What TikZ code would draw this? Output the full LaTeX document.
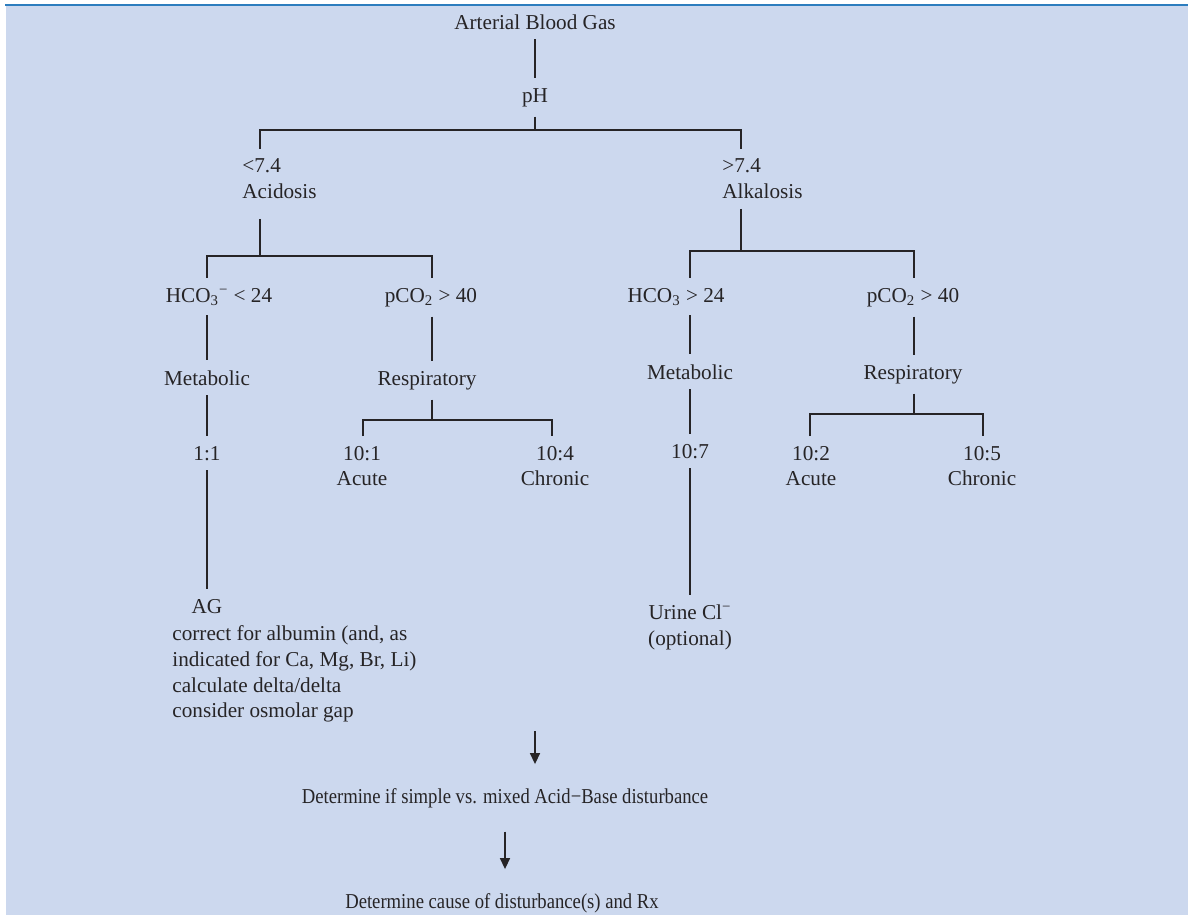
\documentclass[tikz,border=0pt]{standalone}
\usepackage{fontspec}
\setmainfont{Liberation Serif}
\newfontfamily\narrowserif[FakeStretch=0.88]{Liberation Serif}
\usetikzlibrary{arrows.meta}
\definecolor{panel}{RGB}{204,216,238}
\definecolor{rule}{RGB}{44,125,190}
\definecolor{ink}{RGB}{38,36,38}
\tikzset{>={Triangle[length=5.5pt,width=5pt]}}

\begin{document}
\begin{tikzpicture}[x=0.5pt,y=-0.5pt,
    txt/.style={text=ink,font=\fontsize{10.6}{12.8}\selectfont,inner sep=0pt,outer ysep=5pt},
    step txt/.style={txt,font=\fontsize{10.6}{12.8}\narrowserif},
    link/.style={draw=ink,line width=0.75pt},
    flow/.style={link,->,shorten <=7pt,shorten >=7pt}]

  % panel and top rule
  \useasboundingbox (0,0) rectangle (1188,918);
  \fill[panel] (6,6) rectangle (1188,915);
  \draw[rule,line width=1pt] (5,5) -- (1188,5);

  % top of the tree
  \node[txt,anchor=base] (abg) at (535,29) {Arterial Blood Gas};
  \node[txt,anchor=base] (ph) at (535,102) {pH};
  \draw[link] (abg) -- (ph);

  \node[txt,anchor=north west,align=left] (acid) at (242,149) {<7.4\\Acidosis};
  \node[txt,anchor=north west,align=left] (alk) at (722,149) {>7.4\\Alkalosis};
  \coordinate (phL) at (260,130);
  \coordinate (phR) at (741,130);
  \draw[link] (ph) |- (phL) -- (phL |- acid.north);
  \draw[link] (ph.south |- phL) -- (phR) -- (phR |- alk.north);

  % acidosis side
  \node[txt,anchor=base] (hcoa) at (219,302) {HCO\textsubscript{3}\textsuperscript{−} < 24};
  \node[txt,anchor=base] (pcoa) at (431,302) {pCO\textsubscript{2} > 40};
  \coordinate (acL) at (207,256);
  \coordinate (acR) at (432,256);
  \draw[link,shorten <=5pt] (acid.south -| phL) -- (phL |- acL);
  \draw[link] (acL |- hcoa.north) -- (acL) -- (acR) -- (acR |- pcoa.north);

  \node[txt,anchor=base] (metaa) at (207,385) {Metabolic};
  \node[txt,anchor=base] (respa) at (427,385) {Respiratory};
  \draw[link] (metaa.north |- hcoa.south) -- (metaa.north);
  \draw[link] (pcoa.south -| acR) -- (acR |- respa.north);

  \node[txt,anchor=base] (ratioa) at (207,460) {1:1};
  \draw[link] (metaa) -- (ratioa);
  \node[txt,anchor=base] (ag) at (207,613) {AG};
  \draw[link] (ratioa) -- (ag);
  \node[txt,anchor=north west,align=left] (agnotes) at (172,616)
    {correct for albumin (and, as\\indicated for Ca, Mg, Br, Li)\\calculate delta/delta\\consider osmolar gap};

  \node[txt,anchor=north,align=center] (acutea) at (362,436) {10:1\\Acute};
  \node[txt,anchor=north,align=center] (chronica) at (555,436) {10:4\\Chronic};
  \coordinate (raL) at (363,420);
  \coordinate (raR) at (552,420);
  \draw[link] (respa.south -| acR) -- (acR |- raL);
  \draw[link] (raL |- acutea.north) -- (raL) -- (raR) -- (raR |- chronica.north);

  % alkalosis side
  \node[txt,anchor=base] (hcob) at (676,302) {HCO\textsubscript{3} > 24};
  \node[txt,anchor=base] (pcob) at (913,302) {pCO\textsubscript{2} > 40};
  \coordinate (alL) at (690,251);
  \coordinate (alR) at (914,251);
  \draw[link] (alk.south -| phR) -- (phR |- alL);
  \draw[link] (alL |- hcob.north) -- (alL) -- (alR) -- (alR |- pcob.north);

  \node[txt,anchor=base] (metab) at (690,379) {Metabolic};
  \node[txt,anchor=base] (respb) at (913,379) {Respiratory};
  \draw[link] (metab.north |- hcob.south) -- (metab.north);
  \draw[link] (pcob.south -| alR) -- (alR |- respb.north);

  \node[txt,anchor=base] (ratiob) at (690,458) {10:7};
  \draw[link] (metab) -- (ratiob);
  \node[txt,anchor=north,align=center] (urine) at (690,595) {Urine Cl\textsuperscript{−}\\(optional)};
  \draw[link] (ratiob) -- (urine);

  \node[txt,anchor=north,align=center] (acuteb) at (811,436) {10:2\\Acute};
  \node[txt,anchor=north,align=center] (chronicb) at (982,436) {10:5\\Chronic};
  \coordinate (rbL) at (810,414);
  \coordinate (rbR) at (983,414);
  \draw[link] (respb.south -| alR) -- (alR |- rbL);
  \draw[link] (rbL |- acuteb.north) -- (rbL) -- (rbR) -- (rbR |- chronicb.north);

  % bottom steps
  \node[step txt,anchor=base] (mixed) at (505,803) {Determine if simple vs. mixed Acid−Base disturbance};
  \node[step txt,anchor=base] (cause) at (502,908) {Determine cause of disturbance(s) and Rx};
  \coordinate (arrA) at (535,717);
  \draw[flow] (arrA) -- (arrA |- mixed.north);
  \draw[flow] (mixed.south -| 505,0) -- (cause.north -| 505,0);

\end{tikzpicture}
\end{document}
